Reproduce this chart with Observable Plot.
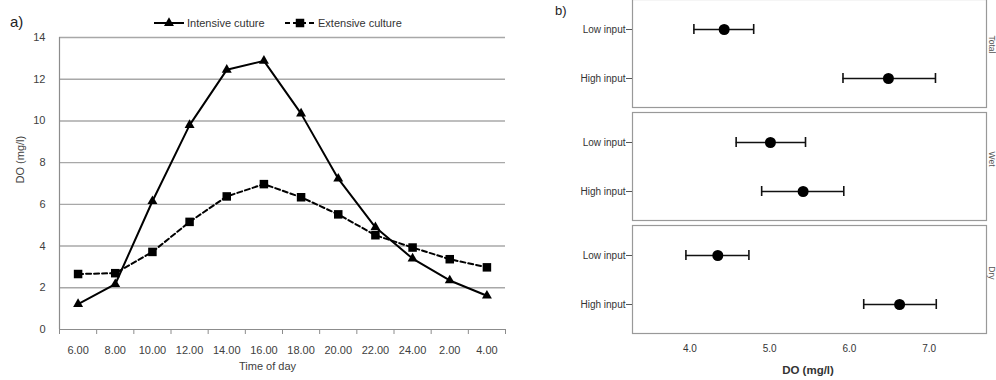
<!DOCTYPE html>
<html><head><meta charset="utf-8">
<script src="https://cdn.jsdelivr.net/npm/d3@7"></script>
<script src="https://cdn.jsdelivr.net/npm/@observablehq/plot@0.6"></script>
<style>
body{margin:0;background:#fff;font-family:"Liberation Sans",Arial,sans-serif;}
#wrap{position:relative;width:996px;height:380px;overflow:hidden;background:#fff;}
.abs{position:absolute;}
.lbl{font-size:15px;color:#222;}
.leg{font-size:11px;color:#333;white-space:nowrap;display:flex;align-items:center;}
</style></head><body><div id="wrap"></div>
<script>
// ---- panel a data ----
const times = ["6.00","8.00","10.00","12.00","14.00","16.00","18.00","20.00","22.00","24.00","2.00","4.00"];
const intensive = [1.22, 2.17, 6.15, 9.8, 12.45, 12.88, 10.35, 7.23, 4.9, 3.4, 2.35, 1.62];
const extensive = [2.66, 2.7, 3.72, 5.16, 6.38, 6.97, 6.34, 5.52, 4.52, 3.93, 3.37, 2.98];
const yTicksA = [0, 2, 4, 6, 8, 10, 12, 14];
const seriesNames = ["Intensive cuture", "Extensive culture"];

// ---- panel b data ----
const facetNames = ["Total", "Wet", "Dry"];
const inputs = ["Low input", "High input"];
const meanDO = [4.43, 6.49, 5.01, 5.42, 4.35, 6.63];
const lowDO  = [4.05, 5.92, 4.58, 4.90, 3.95, 6.18];
const highDO = [4.80, 7.08, 5.45, 5.93, 4.74, 7.09];
const xTicksB = [4, 5, 6, 7];

const wrap = document.getElementById("wrap");
const font = '"Liberation Sans", Arial, sans-serif';

// ---------- panel a ----------
const idx = times.map((_, i) => i);
const bounds = d3.range(times.length + 1).map(i => i - 0.5);
const left = Plot.plot({
  width: 530, height: 380,
  marginLeft: 59, marginRight: 25, marginTop: 37, marginBottom: 51,
  style: {fontFamily: font, fontSize: "11px", color: "#404040", background: "transparent", overflow: "visible"},
  x: {type: "linear", domain: [-0.5, times.length - 0.5]},
  y: {domain: [0, 14]},
  marks: [
    Plot.ruleY(yTicksA.filter(d => d > 0), {stroke: "#a8a8a8", strokeWidth: 1.4}),
    Plot.ruleY([0], {stroke: "#8c8c8c", strokeWidth: 1.2}),
    Plot.ruleX([-0.5], {stroke: "#8c8c8c", strokeWidth: 1.2}),
    Plot.axisY({ticks: yTicksA, tickSize: 0, tickPadding: 14, label: null, fill: "#404040"}),
    Plot.axisX({ticks: idx, tickFormat: i => times[i], tickSize: 0, tickPadding: 17, label: null, fill: "#404040"}),
    Plot.axisX({ticks: bounds, tickFormat: () => "", tickSize: 5, stroke: "#8c8c8c", label: null}),
    Plot.line(idx, {x: i => i, y: i => intensive[i], stroke: "#000", strokeWidth: 2}),
    Plot.line(idx, {x: i => i, y: i => extensive[i], stroke: "#000", strokeWidth: 2, strokeDasharray: "5,3"}),
    Plot.dot(idx, {x: i => i, y: i => intensive[i], symbol: "triangle", r: 3.7, fill: "#000", stroke: "none"}),
    Plot.dot(idx, {x: i => i, y: i => extensive[i], symbol: "square", r: 4.8, fill: "#000", stroke: "none"}),
    Plot.text(["Time of day"], {frameAnchor: "bottom", dy: 40, dx: -15, fill: "#404040", fontSize: 11}),
    Plot.text(["DO (mg/l)"], {frameAnchor: "left", dx: -39, rotate: -90, fill: "#404040", fontSize: 11})
  ]
});
left.classList.add("abs");
left.style.left = "0px"; left.style.top = "0px";
wrap.appendChild(left);

// legend for panel a
function legendItem(name, dashed, symbol, r, leftPx) {
  const div = document.createElement("div");
  div.className = "abs leg";
  div.style.left = leftPx + "px"; div.style.top = "15px"; div.style.height = "16px";
  const svg = d3.create("svg").attr("width", 31).attr("height", 16).style("margin-right", "2px");
  svg.append("line").attr("x1", 0).attr("x2", 30).attr("y1", 8).attr("y2", 8)
    .attr("stroke", "#000").attr("stroke-width", 2).attr("stroke-dasharray", dashed ? "5,3" : null);
  svg.append("path").attr("transform", "translate(15,8)")
    .attr("d", d3.symbol(symbol, Math.PI * r * r)()).attr("fill", "#000");
  div.appendChild(svg.node());
  const sp = document.createElement("span"); sp.textContent = name;
  div.appendChild(sp);
  wrap.appendChild(div);
}
legendItem(seriesNames[0], false, d3.symbolTriangle, 3.7, 154);
legendItem(seriesNames[1], true, d3.symbolSquare, 4.8, 285);

const la = document.createElement("div");
la.className = "abs lbl"; la.textContent = "a)";
la.style.left = "10px"; la.style.top = "13px";
wrap.appendChild(la);

// ---------- panel b ----------
const rowsB = facetNames.flatMap((f, k) => inputs.map((inp, j) => ({
  f, inp, m: meanDO[k * 2 + j], lo: lowDO[k * 2 + j], hi: highDO[k * 2 + j]
})));
const right = Plot.plot({
  width: 436, height: 381,
  marginLeft: 72, marginRight: 10, marginTop: 0, marginBottom: 47,
  style: {fontFamily: font, fontSize: "10px", color: "#333", background: "transparent", overflow: "visible"},
  x: {domain: [3.28, 7.72]},
  y: {type: "band", domain: inputs, paddingInner: 0.8, paddingOuter: 0.494},
  fy: {domain: facetNames, paddingInner: 0.045, paddingOuter: 0, axis: null},
  marks: [
    Plot.frame({stroke: "#999", strokeWidth: 1.2}),
    Plot.ruleY(rowsB, {y: "inp", fy: "f", x1: "lo", x2: "hi", stroke: "#111", strokeWidth: 1.6}),
    Plot.tickX(rowsB, {x: "lo", y: "inp", fy: "f", stroke: "#111", strokeWidth: 1.6}),
    Plot.tickX(rowsB, {x: "hi", y: "inp", fy: "f", stroke: "#111", strokeWidth: 1.6}),
    Plot.dot(rowsB, {x: "m", y: "inp", fy: "f", r: 5.5, fill: "#000", stroke: "none"}),
    Plot.axisY({tickSize: 6, tickPadding: 1, label: null, fill: "#333", stroke: "#555"}),
    Plot.axisX({ticks: xTicksB, tickFormat: ".1f", tickSize: 0, tickPadding: 11, label: null, fill: "#333"}),
    Plot.text(facetNames, {fy: d => d, text: d => d, frameAnchor: "right", rotate: 90, dx: 5.5, fill: "#555", fontSize: 8.5})
  ]
});
right.classList.add("abs");
right.style.left = "560px"; right.style.top = "-1px";
wrap.appendChild(right);

const xl = document.createElement("div");
xl.className = "abs";
xl.style.cssText = "left:708px;width:200px;top:364px;text-align:center;font-size:11.5px;font-weight:bold;color:#333;";
xl.textContent = "DO (mg/l)";
wrap.appendChild(xl);

const lb = document.createElement("div");
lb.className = "abs lbl"; lb.textContent = "b)";
lb.style.left = "555px"; lb.style.top = "3px"; lb.style.fontSize = "13px";
wrap.appendChild(lb);
</script>
</body></html>
